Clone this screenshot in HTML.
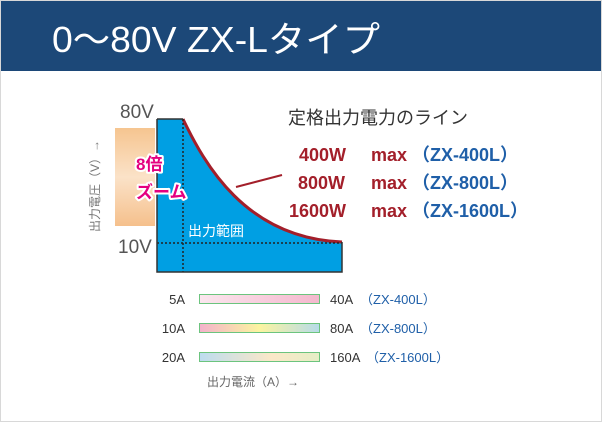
<!DOCTYPE html>
<html><head><meta charset="utf-8"><style>
html,body{margin:0;padding:0;background:#fff}
svg{display:block}
text{font-family:"Liberation Sans","Noto Sans CJK JP",sans-serif}
</style></head><body>
<svg width="602" height="422" viewBox="0 0 602 422" xmlns="http://www.w3.org/2000/svg">
<defs>
<linearGradient id="org" x1="0" y1="0" x2="0" y2="1"><stop offset="0" stop-color="#f6c590"/><stop offset="0.5" stop-color="#fbe2c8"/><stop offset="1" stop-color="#f5c08c"/></linearGradient>
<linearGradient id="g1" x1="0" x2="1"><stop offset="0" stop-color="#fbe6ee"/><stop offset="1" stop-color="#f4b8cd"/></linearGradient>
<linearGradient id="g2" x1="0" x2="1"><stop offset="0" stop-color="#f3b2cb"/><stop offset="0.5" stop-color="#fbf4a0"/><stop offset="1" stop-color="#b6dbe9"/></linearGradient>
<linearGradient id="g3" x1="0" x2="1"><stop offset="0" stop-color="#bcdcef"/><stop offset="0.6" stop-color="#fbe8c8"/><stop offset="1" stop-color="#e5eec6"/></linearGradient>
</defs>
<rect x="0.5" y="0.5" width="601" height="421" fill="#fff" stroke="#d8d8d8"/>
<rect x="1" y="1" width="600" height="70" fill="#1c4878"/>
<text x="52" y="52" font-size="36" fill="#fff" textLength="328" lengthAdjust="spacingAndGlyphs">0〜80V  ZX-Lタイプ</text>

<rect x="115" y="128" width="40" height="98" fill="url(#org)"/>
<rect x="157" y="119" width="185" height="153" fill="#009fe3"/>
<path d="M183,118 C204,163 245,238 342,242 L343,118 Z" fill="#fff"/>
<path d="M183,119 C204,163 245,238 342,242" fill="none" stroke="#a31f2a" stroke-width="3"/>
<line x1="236" y1="187" x2="282" y2="175" stroke="#a31f2a" stroke-width="2"/>
<line x1="183" y1="119" x2="183" y2="272" stroke="#222" stroke-width="1.5" stroke-dasharray="2,2"/>
<line x1="157" y1="243" x2="342" y2="243" stroke="#222" stroke-width="1.5" stroke-dasharray="2,2"/>
<polyline points="157,119 157,272 342,272 342,242" fill="none" stroke="#333" stroke-width="1.5"/>
<line x1="157" y1="119" x2="183" y2="119" stroke="#333" stroke-width="1.5"/>

<text x="120" y="118" font-size="19" fill="#555">80V</text>
<text x="118" y="253" font-size="19" fill="#555">10V</text>
<text transform="translate(99,232) rotate(-90)" font-size="12" fill="#777">出力電圧（V）→</text>
<g font-size="17" font-weight="bold" fill="#e4007f" stroke="#fff" stroke-width="4" paint-order="stroke" stroke-linejoin="round">
<text x="136" y="170">8倍</text>
<text x="136" y="198">ズーム</text>
</g>
<text x="188" y="236" font-size="14" fill="#fff">出力範囲</text>

<text x="288" y="124" font-size="18" fill="#333">定格出力電力のライン</text>
<g font-size="18" font-weight="bold">
<text x="299" y="161" fill="#a31f2a">400W</text><text x="371" y="161" fill="#a31f2a">max</text><text x="412" y="161" fill="#1f5fa8">（ZX-400L）</text>
<text x="298" y="189" fill="#a31f2a">800W</text><text x="371" y="189" fill="#a31f2a">max</text><text x="412" y="189" fill="#1f5fa8">（ZX-800L）</text>
<text x="289" y="217" fill="#a31f2a">1600W</text><text x="371" y="217" fill="#a31f2a">max</text><text x="412" y="217" fill="#1f5fa8">（ZX-1600L）</text>
</g>

<g stroke="#6cc47e" stroke-width="1">
<rect x="199.5" y="294.5" width="120" height="9" fill="url(#g1)"/>
<rect x="199.5" y="323.5" width="120" height="9" fill="url(#g2)"/>
<rect x="199.5" y="352.5" width="120" height="9" fill="url(#g3)"/>
</g>
<g font-size="13" fill="#333">
<text x="185" y="304" text-anchor="end">5A</text>
<text x="185" y="333" text-anchor="end">10A</text>
<text x="185" y="362" text-anchor="end">20A</text>
<text x="330" y="304">40A</text>
<text x="330" y="333">80A</text>
<text x="330" y="362">160A</text>
</g>
<g font-size="13" fill="#1f5fa8">
<text x="360" y="304">（ZX-400L）</text>
<text x="360" y="333">（ZX-800L）</text>
<text x="366" y="362">（ZX-1600L）</text>
</g>
<text x="207" y="386" font-size="12" fill="#666">出力電流（A）→</text>
</svg>
</body></html>
